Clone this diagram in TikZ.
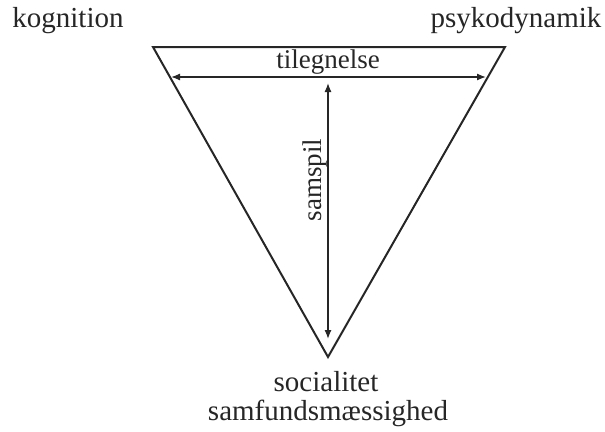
\documentclass[tikz,border=0pt]{standalone}
\usepackage{fontspec}
\setmainfont{Liberation Serif}
\usetikzlibrary{arrows.meta}
\begin{document}
\begin{tikzpicture}[x=1pt,y=-1pt,
  lbl/.style={inner sep=0pt, font=\fontsize{29}{32}\selectfont, text=black!85},
  inlbl/.style={lbl, font=\fontsize{27}{30}\selectfont},
  tri/.style={draw=black!85, line width=2pt, line join=miter},
  dbl/.style={draw=black!85, line width=1.3pt, {Latex[length=9pt,width=7pt]}-{Latex[length=9pt,width=7pt]}}]
\useasboundingbox (0,0) rectangle (605,431);
\coordinate (tl) at (153,47);
\coordinate (tr) at (505,47);
\coordinate (b) at (328,357);
\draw[tri] (tl) -- (tr) -- (b) -- cycle;
\coordinate (hl) at (171,77);
\coordinate (hr) at (486,77);
\draw[dbl] (hl) -- (hr);
\coordinate (vt) at (328,83);
\coordinate (vb) at (328,339);
\draw[dbl] (vt) -- (vb);
\node[inlbl, anchor=base] (til) at (328,68) {tilegnelse};
\node[inlbl, anchor=base, rotate=90] (sam) at (321,180) {samspil};
\node[lbl] (kog) at (68,21) {kognition};
\node[lbl] (psy) at (516,21) {psykodynamik};
\node[lbl] (soc) at (326,382) {socialitet};
\node[lbl] (smf) at (328,413) {samfundsmæssighed};
\end{tikzpicture}
\end{document}
